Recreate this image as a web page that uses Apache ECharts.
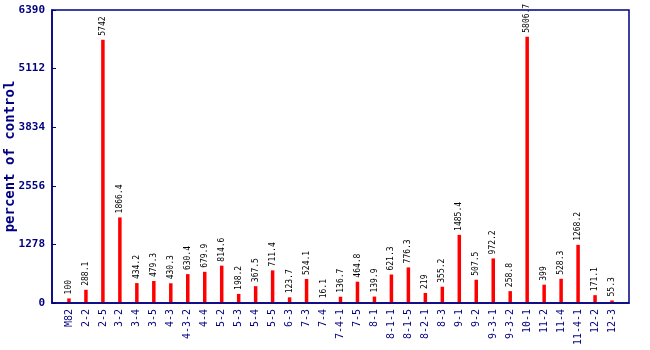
<!DOCTYPE html>
<html>
<head>
<meta charset="utf-8">
<script src="https://cdn.jsdelivr.net/npm/echarts@6/dist/echarts.min.js"></script>
<style>
  html, body { margin: 0; padding: 0; background: #ffffff; }
  #chart { width: 650px; height: 350px; }
</style>
</head>
<body>
<div id="chart"></div>
<script>
// Lines and their expression relative to the control (percent)
const categories = ['M82', '2-2', '2-5', '3-2', '3-4', '3-5', '4-3', '4-3-2', '4-4', '5-2', '5-3',
  '5-4', '5-5', '6-3', '7-3', '7-4', '7-4-1', '7-5', '8-1', '8-1-1', '8-1-5', '8-2-1', '8-3',
  '9-1', '9-2', '9-3-1', '9-3-2', '10-1', '11-2', '11-4', '11-4-1', '12-2', '12-3'];
const values = [100, 288.1, 5742, 1866.4, 434.2, 479.3, 430.3, 630.4, 679.9, 814.6, 198.2,
  367.5, 711.4, 123.7, 524.1, 16.1, 136.7, 464.8, 139.9, 621.3, 776.3, 219, 355.2,
  1485.4, 507.5, 972.2, 258.8, 5806.7, 399, 528.3, 1268.2, 171.1, 55.3];
const yTicks = [0, 1278, 2556, 3834, 5112, 6390];

const navy = '#000080';
const chart = echarts.init(document.getElementById('chart'), null, { renderer: 'canvas' });

chart.setOption({
  animation: false,
  backgroundColor: '#ffffff',
  grid: { left: 52, right: 21, top: 10, bottom: 47, containLabel: false, outerBoundsMode: 'none' },
  xAxis: {
    type: 'value',
    min: -1,
    max: categories.length,
    interval: 1,
    axisLine: { show: true, onZero: false, lineStyle: { color: navy, width: 1.5 } },
    axisTick: { show: false },
    splitLine: { show: false },
    axisLabel: {
      rotate: 90,
      margin: 6,
      color: navy,
      fontFamily: 'DejaVu Sans Mono',
      fontSize: 10,
      formatter: v => (v >= 0 && v < categories.length && Number.isInteger(v)) ? categories[v] : ''
    }
  },
  yAxis: {
    type: 'value',
    min: yTicks[0],
    max: yTicks[yTicks.length - 1],
    interval: yTicks[1] - yTicks[0],
    name: 'percent of control',
    nameLocation: 'middle',
    nameGap: 35,
    nameMoveOverlap: false,
    nameTextStyle: { color: navy, fontFamily: 'DejaVu Sans Mono', fontSize: 14, fontWeight: 'bold' },
    axisLine: { show: true, onZero: false, lineStyle: { color: navy, width: 1.5 } },
    axisTick: { show: true, inside: true, length: 4, lineStyle: { color: navy } },
    splitLine: { show: false },
    axisLabel: {
      margin: 7,
      color: navy,
      fontFamily: 'DejaVu Sans Mono',
      fontWeight: 'bold',
      fontSize: 11,
      formatter: v => String(v)
    }
  },
  series: [{
    type: 'bar',
    barWidth: 3.5,
    data: values.map((v, i) => [i, v]),
    itemStyle: { color: '#ff0000' },
    label: {
      show: true,
      position: 'top',
      rotate: 90,
      align: 'left',
      verticalAlign: 'middle',
      distance: 4,
      color: '#000000',
      fontFamily: 'DejaVu Sans Mono',
      fontSize: 8,
      formatter: p => String(values[p.dataIndex])
    }
  }],
  graphic: [{
    type: 'rect',
    shape: { x: 52, y: 10, width: 577, height: 293 },
    style: { fill: 'none', stroke: navy, lineWidth: 1.5 },
    silent: true,
    z: 10
  }]
});
</script>
</body>
</html>
